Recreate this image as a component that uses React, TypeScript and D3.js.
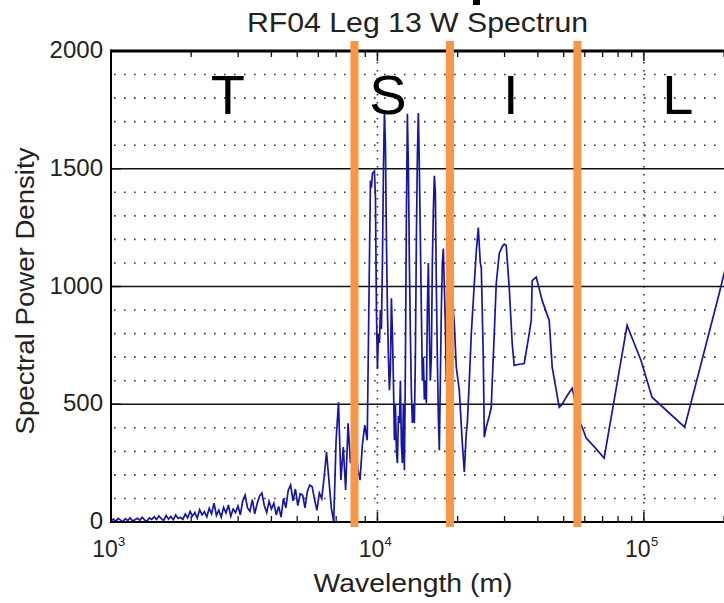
import React from 'react';
import * as d3 from 'd3';

const W = 724;
const H = 603;

// Short-wavelength (turbulence) part of the spectrum: wavelength (m) and PSD
const tWave = [1000, 1021, 1042, 1064, 1086, 1109, 1132, 1156, 1180, 1205, 1230, 1256, 1282, 1309, 1336, 1364, 1393, 1422,
  1452, 1482, 1513, 1545, 1577, 1610, 1644, 1678, 1713, 1749, 1786, 1823, 1861,
  1900, 1940, 1981, 2022, 2064, 2107, 2151, 2196, 2242, 2289, 2337, 2386, 2436,
  2487, 2539, 2592, 2646, 2701, 2758, 2815, 2874, 2934, 2996, 3058, 3122, 3187,
  3254, 3322, 3392, 3463, 3535, 3609, 3684, 3761, 3840, 3920, 4002, 4086, 4171, 4259,
  4348, 4439, 4531, 4626, 4723, 4821, 4922, 5025, 5130, 5237, 5347, 5458,
  5572, 5689, 5808, 5929, 6053, 6180, 6309, 6440,
  6575, 6712, 6853, 6996, 7142, 7291, 7444, 7599, 7758, 7920,
  8086, 8255, 8427, 8603, 8783, 8966, 9154];
const tPsd = [5, 12, 3, 15, 8, 2, 14, 6, 18, 4, 10, 16, 7, 20, 9, 3, 17, 11,
  22, 10, 26, 14, 6, 28, 12, 24, 9, 30, 15, 20, 11,
  34, 18, 45, 25, 40, 16, 52, 30, 44, 22, 58, 35, 80,
  28, 50, 20, 62, 38, 72, 24, 55, 40, 68, 30, 90, 114,
  60, 45, 95, 35, 78, 110, 123, 70, 40, 88, 55, 80, 30, 66,
  21, 100, 60, 135, 157, 90, 140, 70, 120, 114, 60, 130,
  157, 150, 95, 50, 123, 100, 190, 297,
  178, 60, 0, 347, 508, 178, 318, 136, 419, 250,
  300, 420, 230, 178, 330, 411, 347];

// Longer wavelengths (S, I, L bands)
const sWave = [9413, 9495, 9577, 9744, 9829, 9914, 10000, 10087, 10174, 10262, 10351, 10441, 10532, 10623, 10715,
  10808, 10901, 10996, 11091, 11187, 11284, 11382, 11480, 11580, 11680, 11781, 11883, 11986, 12090, 12195,
  12300, 12407, 12514, 12623, 12732, 12843, 12954, 13066, 13179, 13294, 13409, 13525, 13642, 13761, 13880,
  14000, 14121, 14244, 14367, 14492, 14617, 14744, 14872, 15001, 15131, 15262, 15394, 15527, 15662, 15797,
  15935, 16073, 16212, 16353, 16494, 16637, 16781, 16927, 17073, 17221, 17371, 17521, 17673, 17826, 17981,
  18137, 18453, 18773, 19099, 19430, 19768, 20289, 20823, 21186, 21556, 21743, 22122, 22507, 23097, 23499,
  23908, 24324, 24535, 24961, 25178, 25615, 26287, 26744, 26976, 27445, 27922, 28654, 29405, 29915, 30434,
  31232, 32050, 32607, 34049, 35556, 37129, 37775, 38103, 39441, 40477, 41539, 44129, 45285, 46882, 48111,
  49374, 51111, 52451, 53829, 54765, 56202, 58684, 60744, 65083, 70936, 86490, 91862, 97580, 107281, 142248,
  191747, 220337];
const sPsd = [1450, 1420, 1480, 1490, 1380, 900, 650, 800, 760, 900, 820, 1100, 1500, 1740, 1600,
  1200, 900, 700, 560, 650, 950, 800, 600, 347, 500, 300, 250, 450, 420, 600,
  330, 250, 500, 220, 650, 1300, 1733, 1500, 1100, 800, 550, 420, 500, 420, 700,
  1200, 1550, 1737, 1500, 1200, 900, 600, 700, 520, 600, 504, 900, 1100, 800, 600,
  700, 1100, 1320, 1470, 1400, 1000, 700, 450, 305, 600, 900, 1100, 1161, 1000, 850,
  600, 700, 900, 950, 843, 657, 559, 335, 212, 380, 420, 600, 800, 1013, 1150,
  1250, 1100, 1080, 700, 360, 403, 450, 487, 600, 800, 1013, 1140, 1170, 1180, 1174,
  996, 758, 665, 670, 673, 800, 856, 1025, 1040, 990, 940, 856, 657, 560, 487,
  500, 530, 550, 568, 530, 450, 402, 356, 320, 271, 835, 760, 686, 530, 403,
  970, 1250];

const yTicks = [0, 500, 1000, 1500, 2000];
const yMinorStep = 100;
const xTickExps = [3, 4, 5];
const bandEdges = [8200, 18710, 56310];
const bandLabels = ['T', 'S', 'I', 'L'];
const bandLabelWaves = [2748, 10950, 31690, 134200];
const title = 'RF04 Leg 13 W Spectrun';
const xLabel = 'Wavelength (m)';
const yLabel = 'Spectral Power Density';

const FONT = "'Liberation Sans', Arial, Helvetica, sans-serif";

export default function App() {
  const left = 111, right = 771, top = 51, bottom = 522;
  const x = d3.scaleLog().domain([1000, 300000]).range([left, right]);
  const y = d3.scaleLinear().domain([0, 2000]).range([bottom, top]);

  const points: [number, number][] = [];
  tWave.forEach((w, i) => points.push([w, tPsd[i]]));
  sWave.forEach((w, i) => points.push([w, sPsd[i]]));
  const line = d3.line<[number, number]>().x(d => x(d[0])).y(d => y(d[1]));

  const minorGrid = d3.range(yMinorStep, 2000, yMinorStep).filter(v => v % 500 !== 0);
  const solidGrid = [500, 1000, 1500];

  const minorX: number[] = [];
  for (let e = 3; e <= 5; e++) {
    for (let m = 2; m <= 9; m++) {
      const v = m * Math.pow(10, e);
      if (v < 300000) minorX.push(v);
    }
  }

  return (
    <svg width={W} height={H} style={{ position: 'absolute', left: 0, top: 0, background: '#fff' }}>
      <defs>
        <clipPath id="plotclip">
          <rect x={left} y={top - 2} width={right - left} height={bottom - top + 4} />
        </clipPath>
      </defs>
      <rect x={0} y={0} width={W} height={H} fill="#fff" />
      {/* fragment of slide heading above */}
      <rect x={473} y={0} width={7} height={5} fill="#000" />

      {/* minor dotted grid */}
      {minorGrid.map(v => (
        <line key={'mg' + v} x1={left + 3} x2={right} y1={y(v)} y2={y(v)}
          stroke="#333" strokeWidth={1.6} strokeDasharray="1.6 8.4" />
      ))}
      {xTickExps.slice(1).map(e => (
        <line key={'vg' + e} x1={x(Math.pow(10, e))} x2={x(Math.pow(10, e))} y1={top + 3} y2={bottom}
          stroke="#333" strokeWidth={1.6} strokeDasharray="1.6 6.4" />
      ))}
      {solidGrid.map(v => (
        <line key={'sg' + v} x1={left} x2={right} y1={y(v)} y2={y(v)} stroke="#111" strokeWidth={1.5} />
      ))}

      {/* ticks */}
      {minorX.map(v => (
        <g key={'mx' + v}>
          <line x1={x(v)} x2={x(v)} y1={bottom} y2={bottom - 6} stroke="#111" strokeWidth={1.3} />
          <line x1={x(v)} x2={x(v)} y1={top} y2={top + 6} stroke="#111" strokeWidth={1.3} />
        </g>
      ))}
      {xTickExps.map(e => (
        <g key={'Mx' + e}>
          <line x1={x(Math.pow(10, e))} x2={x(Math.pow(10, e))} y1={bottom} y2={bottom - 10} stroke="#111" strokeWidth={1.5} />
          <line x1={x(Math.pow(10, e))} x2={x(Math.pow(10, e))} y1={top} y2={top + 10} stroke="#111" strokeWidth={1.5} />
        </g>
      ))}
      {yTicks.map(v => (
        <line key={'yt' + v} x1={left} x2={left + 10} y1={y(v)} y2={y(v)} stroke="#111" strokeWidth={1.5} />
      ))}

      {/* data */}
      <path d={line(points) || ''} fill="none" stroke="#1616a0" strokeWidth={1.7}
        strokeLinejoin="miter" clipPath="url(#plotclip)" />

      {/* axes box */}
      <line x1={left} x2={right} y1={top} y2={top} stroke="#000" strokeWidth={3} />
      <line x1={left} x2={right} y1={bottom} y2={bottom} stroke="#000" strokeWidth={2} />
      <line x1={left} x2={left} y1={top - 1.5} y2={bottom + 1} stroke="#000" strokeWidth={2} />

      {/* y tick labels */}
      {yTicks.map(v => (
        <text key={'yl' + v} x={103} y={y(v) + 7} textAnchor="end" fontFamily={FONT} fontSize={24} fill="#222">
          {v}
        </text>
      ))}
      {/* x tick labels */}
      {xTickExps.map(e => (
        <g key={'xl' + e}>
          <text x={x(Math.pow(10, e)) - 6} y={557} textAnchor="middle" fontFamily={FONT} fontSize={23} fill="#222">10</text>
          <text x={x(Math.pow(10, e)) + 7} y={546} textAnchor="start" fontFamily={FONT} fontSize={13} fill="#222">{e}</text>
        </g>
      ))}

      {/* title and axis labels */}
      <text x={417.5} y={32} textAnchor="middle" fontFamily={FONT} fontSize={28} fill="#222"
        textLength={341} lengthAdjust="spacingAndGlyphs">{title}</text>
      <text x={413} y={592} textAnchor="middle" fontFamily={FONT} fontSize={26} fill="#222"
        textLength={199} lengthAdjust="spacingAndGlyphs">{xLabel}</text>
      <text transform="translate(34,291) rotate(-90)" x={0} y={0} textAnchor="middle" fontFamily={FONT}
        fontSize={26} fill="#222" textLength={287} lengthAdjust="spacingAndGlyphs">{yLabel}</text>

      {/* band separators */}
      {bandEdges.map(w => (
        <rect key={'be' + w} x={x(w) - 4} y={41} width={8} height={486} fill="#F79646" />
      ))}
      {bandLabels.map((t, i) => (
        <text key={'bl' + t} x={x(bandLabelWaves[i])} y={114} textAnchor="middle" fontFamily={FONT}
          fontSize={56} fill="#000">{t}</text>
      ))}
    </svg>
  );
}
